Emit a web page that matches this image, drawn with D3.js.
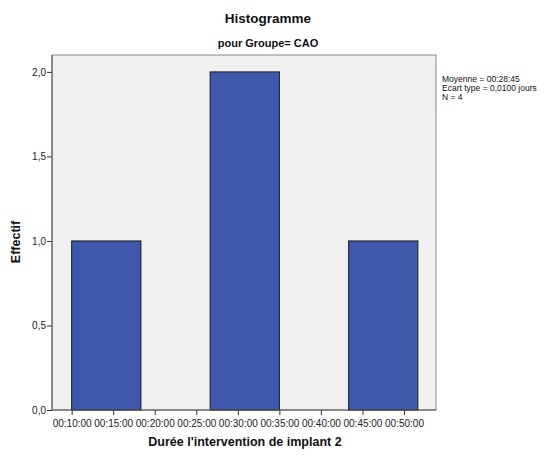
<!DOCTYPE html>
<html><head><meta charset="utf-8">
<script src="https://cdn.jsdelivr.net/npm/d3@7"></script>
<style>body{margin:0;background:#fff;} text{font-family:"Liberation Sans",Arial,sans-serif;}</style>
</head><body><svg id="c" width="557" height="455"></svg>
<script>
// Bins (seconds) and counts
const binEdges = [600, 1100, 1600, 2100, 2600, 3100];
const counts = [1, 0, 2, 0, 1];
const xTicks = [600, 900, 1200, 1500, 1800, 2100, 2400, 2700, 3000];
const yTicks = [0, 0.5, 1, 1.5, 2];
const stats = ["Moyenne = 00:28:45", "Ecart type = 0,0100 jours", "N = 4"];

const svg = d3.select("#c");
const L = 52, R = 436, T = 55, B = 410;
const x = d3.scaleLinear().domain([458, 3231]).range([L, R]);
const y = d3.scaleLinear().domain([0, 2.1]).range([B, T]);

svg.append("rect").attr("x", L).attr("y", T).attr("width", R - L).attr("height", B - T)
  .attr("fill", "#f0f0f0").attr("stroke", "#888").attr("stroke-width", 1);

const bins = counts.map((c, i) => ({x0: binEdges[i], x1: binEdges[i + 1], c}));
svg.selectAll("rect.bar").data(bins.filter(d => d.c > 0)).enter().append("rect")
  .attr("class", "bar")
  .attr("x", d => x(d.x0)).attr("width", d => x(d.x1) - x(d.x0))
  .attr("y", d => y(d.c)).attr("height", d => y(0) - y(d.c))
  .attr("fill", "#3e58ac").attr("stroke", "#1a1a1a").attr("stroke-width", 1);

const fmt = s => {const m = Math.floor(s / 60), sec = s % 60; return "00:" + String(m).padStart(2, "0") + ":" + String(sec).padStart(2, "0");};
const xa = svg.append("g").attr("transform", `translate(0,${B})`)
  .call(d3.axisBottom(x).tickValues(xTicks).tickFormat(fmt).tickSize(5).tickSizeOuter(0));
xa.select(".domain").remove();
xa.selectAll("line").attr("stroke", "#333");
xa.selectAll("text").attr("font-size", "10px").attr("fill", "#222").attr("dy", "0.75em").attr("y", 9);

const ya = svg.append("g").attr("transform", `translate(${L},0)`)
  .call(d3.axisLeft(y).tickValues(yTicks).tickFormat(d => d3.format(".1f")(d).replace(".", ",")).tickSize(5).tickSizeOuter(0));
ya.select(".domain").remove();
ya.selectAll("line").attr("stroke", "#333");
ya.selectAll("text").attr("font-size", "10px").attr("fill", "#222").attr("x", -6);

svg.append("line").attr("x1", L).attr("x2", L).attr("y1", T).attr("y2", B).attr("stroke", "#555");
svg.append("line").attr("x1", L).attr("x2", R).attr("y1", B).attr("y2", B).attr("stroke", "#555");

svg.append("text").attr("x", 268).attr("y", 23).attr("text-anchor", "middle")
  .attr("font-size", "13.5px").attr("font-weight", "bold").attr("fill", "#111").text("Histogramme");
svg.append("text").attr("x", 268).attr("y", 47).attr("text-anchor", "middle")
  .attr("font-size", "11px").attr("font-weight", "bold").attr("fill", "#111").text("pour Groupe= CAO");
svg.append("text").attr("x", 245).attr("y", 446).attr("text-anchor", "middle")
  .attr("font-size", "12.5px").attr("font-weight", "bold").attr("fill", "#111").text("Durée l'intervention de implant 2");
svg.append("text").attr("transform", "translate(20,242) rotate(-90)").attr("text-anchor", "middle")
  .attr("font-size", "12.5px").attr("font-weight", "bold").attr("fill", "#111").text("Effectif");

svg.selectAll("text.st").data(stats).enter().append("text").attr("class", "st")
  .attr("x", 442).attr("y", (d, i) => 82 + i * 9).attr("font-size", "8.5px").attr("fill", "#111").text(d => d);
</script></body></html>
